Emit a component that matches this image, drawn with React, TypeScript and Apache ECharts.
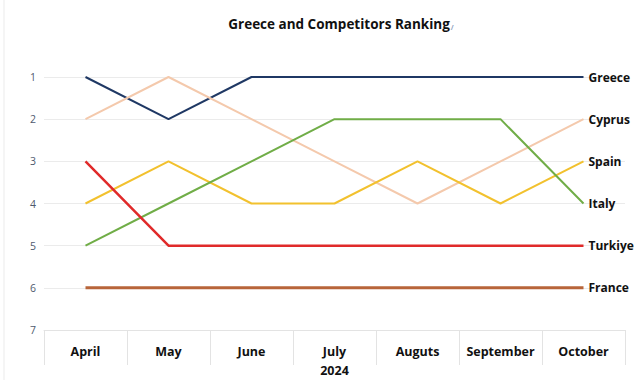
import React, { useEffect, useRef } from "react";
import * as echarts from "echarts";

const months = ["April", "May", "June", "July\n2024", "Auguts", "September", "October"];
const rankTicks = [1, 2, 3, 4, 5, 6, 7];

const greece = [1, 2, 1, 1, 1, 1, 1];
const cyprus = [2, 1, 2, 3, 4, 3, 2];
const spain = [4, 3, 4, 4, 3, 4, 3];
const italy = [5, 4, 3, 2, 2, 2, 4];
const turkiye = [3, 5, 5, 5, 5, 5, 5];
const france = [6, 6, 6, 6, 6, 6, 6];

const seriesNames = ["Greece", "Cyprus", "Spain", "Italy", "Turkiye", "France"];
const seriesData = [greece, cyprus, spain, italy, turkiye, france];
const seriesColors = ["#1f3864", "#f4c9ac", "#f2c12e", "#70ad47", "#e02a2a", "#b8653a"];
const seriesWidths = [2, 2, 2, 2, 2.5, 3];

export default function App() {
  const ref = useRef<HTMLDivElement>(null);
  useEffect(() => {
    if (!ref.current) return;
    const chart = echarts.init(ref.current, null, { renderer: "svg" });
    chart.setOption({
      animation: false,
      backgroundColor: "#ffffff",
      textStyle: { fontFamily: "Open Sans" },
      title: {
        text: "{t|Greece and Competitors Ranking}{s|/}",
        left: 336,
        textAlign: "center",
        top: 12,
        textStyle: {
          rich: {
            t: { fontFamily: "Open Sans", fontWeight: "bold", fontSize: 13.5, color: "#111111", verticalAlign: "bottom" },
            s: { fontFamily: "Open Sans", fontSize: 7, color: "#8fa3c0", padding: [0, 0, 0, 1], verticalAlign: "bottom" },
          },
        },
      },
      graphic: [
        { type: "line", shape: { x1: 4, y1: 0, x2: 4, y2: 380 }, style: { stroke: "#ebebeb", lineWidth: 1 } },
      ],
      grid: { left: 44, right: 16, top: 77, bottom: 47 },
      xAxis: {
        type: "category",
        data: months,
        boundaryGap: true,
        axisLine: { show: true, lineStyle: { color: "#e3e3e3", width: 1 } },
        axisTick: { show: true, length: 35, lineStyle: { color: "#e3e3e3" } },
        axisLabel: {
          margin: 12,
          fontFamily: "Open Sans",
          fontWeight: "bold",
          fontSize: 12.5,
          color: "#111111",
          lineHeight: 19,
          interval: 0,
        },
      },
      yAxis: {
        type: "value",
        inverse: true,
        min: rankTicks[0],
        max: rankTicks[rankTicks.length - 1],
        interval: 1,
        axisLine: { show: false },
        axisTick: { show: false },
        axisLabel: { margin: 8, fontSize: 10.5, color: "#4f5a6e", fontFamily: "Open Sans" },
        splitLine: { show: true, lineStyle: { color: "#ebebeb", width: 1 } },
      },
      series: seriesNames.map((name, i) => ({
        name,
        type: "line",
        data: seriesData[i],
        symbol: "none",
        color: seriesColors[i],
        lineStyle: { color: seriesColors[i], width: seriesWidths[i] },
        endLabel: {
          show: true,
          formatter: "{a}",
          distance: 5,
          fontFamily: "Open Sans",
          fontWeight: "bold",
          fontSize: 12,
          color: "#111111",
        },
      })),
    });
    return () => chart.dispose();
  }, []);
  return (
    <div
      ref={ref}
      style={{ position: "fixed", left: 0, top: 0, width: 641, height: 380 }}
    />
  );
}
